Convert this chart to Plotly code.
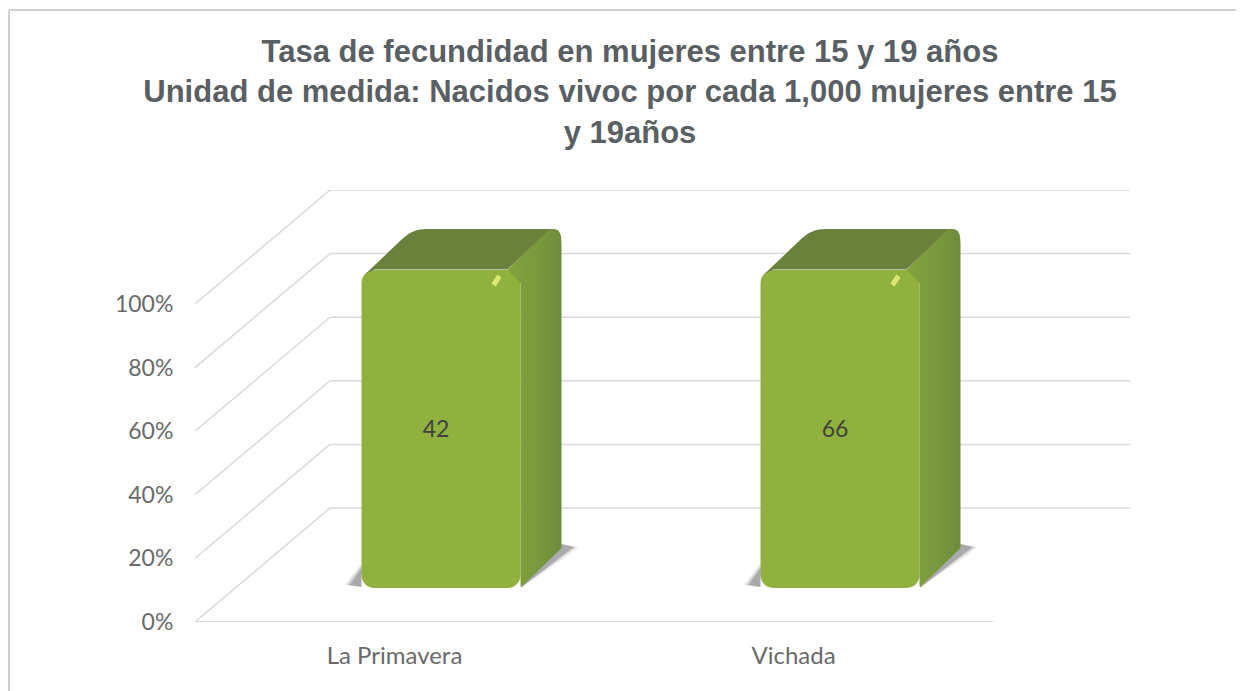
import plotly.graph_objects as go

# ---------- data ----------
categories = ["La Primavera", "Vichada"]
rate_labels = [42, 66]
share_pct = [100, 100]
tick_vals = [0, 20, 40, 60, 80, 100]
tick_text = ["0%", "20%", "40%", "60%", "80%", "100%"]
title_text = ("Tasa de fecundidad en mujeres entre 15 y 19 años<br>"
              "Unidad de medida: Nacidos vivoc por cada 1,000 mujeres entre 15<br>"
              "y 19años")

# ---------- fake-3D geometry (axis scale: px per unit) ----------
PAGE = 8                      # the page's own margin round the figure
W, H = 1244 - PAGE, 691 - PAGE
L, R, T, B = 195, 1130, 190, 622
PX_X, PX_Y = 399.0, 3.18
X0 = -0.5
XMAX = X0 + (R - L) / PX_X
YMAX = (B - T) / PX_Y
WALL_DX, WALL_DY = 135 / PX_X, 114 / PX_Y
FLOOR_END = 1.5
BAR_DX, BAR_DY = 46.5 / PX_X, 34 / PX_Y   # bar front plane
BAR_W = 159 / PX_X
DEPTH_PX = (41, 40)

GREEN = "#91B13E"
GRID = "#D9D9D9"
TEXT = "#5A5F63"


def rounded(points, radii):
    """points in px offsets; quadratic-rounded polygon."""
    out = []
    n = len(points)
    for i, (p, r) in enumerate(zip(points, radii)):
        if r == 0:
            out.append(p)
            continue
        a, c = points[i - 1], points[(i + 1) % n]
        def toward(q):
            d = ((q[0] - p[0]) ** 2 + (q[1] - p[1]) ** 2) ** 0.5
            t = min(r / d, 0.5)
            return (p[0] + (q[0] - p[0]) * t, p[1] + (q[1] - p[1]) * t)
        s, e = toward(a), toward(c)
        for k in range(9):
            t = k / 8
            out.append(((1 - t) ** 2 * s[0] + 2 * t * (1 - t) * p[0] + t ** 2 * e[0],
                        (1 - t) ** 2 * s[1] + 2 * t * (1 - t) * p[1] + t ** 2 * e[1]))
    return out


def face(cat_i, value, pts, radii=None, **kw):
    """pts: (px from bar's front-left x, px upward from bar's front bottom)."""
    radii = radii or [0] * len(pts)
    poly = rounded(pts, radii)
    x0 = cat_i + BAR_DX - BAR_W / 2
    xs = [x0 + p[0] / PX_X for p in poly] + [x0 + poly[0][0] / PX_X]
    ys = [BAR_DY + p[1] / PX_Y for p in poly] + [BAR_DY + poly[0][1] / PX_Y]
    return go.Scatter(x=xs, y=ys, mode="lines", fill="toself", line=dict(width=0),
                      hoverinfo="skip", showlegend=False, **kw)


fig = go.Figure()

# front face of the bars
fig.add_trace(go.Bar(
    x=[i + BAR_DX for i in range(len(categories))], y=share_pct,
    base=BAR_DY, width=BAR_W, marker=dict(color=GREEN, line=dict(width=0)),
    hoverinfo="skip", showlegend=False))

bw = 159
for i, v in enumerate(share_pct):
    h = v * PX_Y
    dx, dy = DEPTH_PX
    # rounded lower corners of the front face
    fig.add_trace(face(i, v, [(-0.5, -0.5), (12, -0.5), (12, 0), (0, 0), (0, 12), (-0.5, 12)],
                       [0, 0, 0, 10, 0, 0], fillcolor="#FFFFFF"))
    fig.add_trace(face(i, v, [(bw + 0.5, -0.5), (bw - 12, -0.5), (bw - 12, 0), (bw, 0), (bw + 0.5, 6)],
                       [0, 0, 0, 8, 0], fillcolor="#FFFFFF"))
    # soft floor shadow
    for grow, op in ((5, 0.1), (2.5, 0.18), (0, 0.3)):
        fig.add_trace(face(i, v, [(bw, 0), (bw + dx + 2, dy - 6 - grow), (bw + dx + 12 + grow, dy + 1),
                                  (bw + dx, dy + 4)], fillcolor=f"rgba(80,80,90,{op})"))
        fig.add_trace(face(i, v, [(0, 1), (-12 - grow, 3), (0, 20 + grow)],
                           fillcolor=f"rgba(80,80,90,{op})"))
    # side face
    fig.add_trace(face(i, v, [(bw - 13, h), (bw + dx - 14, h + dy + 1), (bw + dx, h + dy + 1), (bw + dx, dy),
                              (bw, -1), (bw, h - 13)],
                       [0, 0, 14, 0, 4, 0],
                       fillcolor="#74923D",
                       fillgradient=dict(type="horizontal",
                                         colorscale=[[0, "#84A23E"], [0.55, "#7A993E"], [1, "#6E8B3C"]])))
    # top face
    fig.add_trace(face(i, v, [(13, h + 0.5), (4, h - 4), (51, h + dy + 1), (bw + dx - 12, h + dy + 1), (bw - 13, h + 0.5)],
                       [0, 0, 14, 0, 0],
                       fillcolor="#6A813B"))
    # specular highlight
    fig.add_trace(go.Scatter(
        x=[i + BAR_DX - BAR_W / 2 + (bw - 27) / PX_X, i + BAR_DX - BAR_W / 2 + (bw - 21) / PX_X],
        y=[BAR_DY + v - 15 / PX_Y, BAR_DY + v - 6 / PX_Y],
        mode="lines", line=dict(color="#DDE872", width=5), hoverinfo="skip", showlegend=False))

# value labels
fig.add_trace(go.Scatter(
    x=[i + BAR_DX - 5 / PX_X for i in range(len(categories))],
    y=[BAR_DY + s / 2 - 2 / PX_Y for s in share_pct],
    text=[str(r) for r in rate_labels], mode="text",
    textfont=dict(family="Lato", size=23, color="#404040"),
    hoverinfo="skip", showlegend=False))

# wall grid, floor edge and diagonals as below-trace shapes
shapes = []
line = dict(color=GRID, width=1.5)
for t in tick_vals:
    shapes.append(dict(type="line", xref="x", yref="y", layer="below",
                       x0=X0, y0=t, x1=X0 + WALL_DX, y1=t + WALL_DY, line=line))
    shapes.append(dict(type="line", xref="x", yref="y", layer="below",
                       x0=X0 + WALL_DX, y0=t + WALL_DY, x1=XMAX, y1=t + WALL_DY, line=line))
shapes.append(dict(type="line", xref="x", yref="y", layer="below",
                   x0=X0, y0=0, x1=FLOOR_END, y1=0, line=dict(color=GRID, width=2)))
# picture frame
shapes.append(dict(type="line", xref="paper", yref="paper", x0=-186 / (R - L), x1=1.2,
                   y0=(B - 10) / (B - T), y1=(B - 10) / (B - T), line=dict(color="#D0D0D0", width=2)))
shapes.append(dict(type="line", xref="paper", yref="paper", x0=-186 / (R - L), x1=-186 / (R - L),
                   y0=(B - 10) / (B - T), y1=-0.2, line=dict(color="#D0D0D0", width=2)))

fig.update_layout(
    width=W, height=H, autosize=False,
    paper_bgcolor="white", plot_bgcolor="white",
    margin=dict(l=L - PAGE, r=W - (R - PAGE), t=T - PAGE, b=H - (B - PAGE)),
    barmode="overlay", barcornerradius=13, showlegend=False,
    shapes=shapes,
    title=dict(text=title_text, x=(630 - PAGE) / W, xanchor="center", y=1 - 54 / H, yanchor="top",
               font=dict(family="Liberation Sans", size=31, color=TEXT, weight="bold")),
    xaxis=dict(range=[X0, XMAX], tickmode="array", tickvals=[0, 1], ticktext=categories,
               showgrid=False, zeroline=False, showline=False, ticks="outside", ticklen=12,
               tickcolor="rgba(0,0,0,0)",
               tickfont=dict(family="Lato", size=24, color="#6A6A6A")),
    yaxis=dict(range=[0, YMAX], tickmode="array", tickvals=tick_vals, ticktext=tick_text,
               showgrid=False, zeroline=False, showline=False, ticks="outside", ticklen=16,
               tickcolor="rgba(0,0,0,0)",
               tickfont=dict(family="Lato", size=23, color="#6A6A6A")),
)

fig.write_html("out.html")
